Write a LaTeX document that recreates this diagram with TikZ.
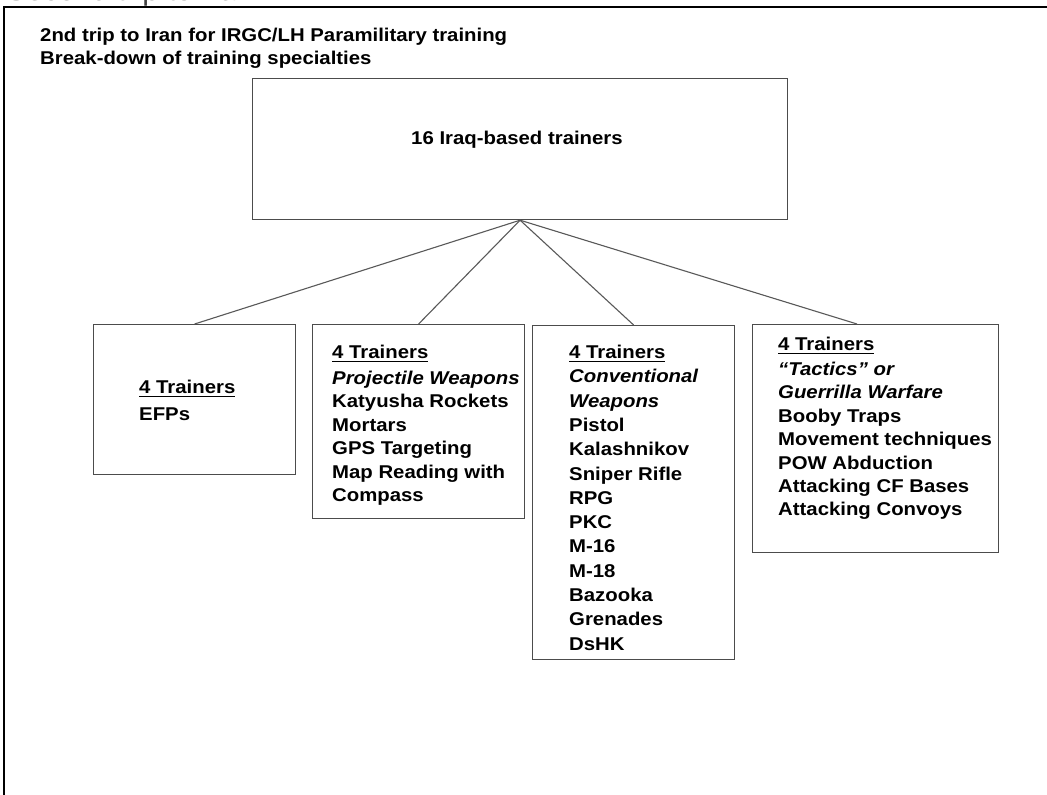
\documentclass[tikz,border=0pt]{standalone}
\usepackage{fontspec}
\setmainfont{Liberation Sans}[FakeStretch=1.1]
\usetikzlibrary{calc}
\newcommand\ulx[1]{\setbox0\hbox{#1}\rlap{\vrule height -2pt depth 3.6pt width \wd0}\box0}
\newcommand\boxlines[2]{\vtop{\baselineskip=#1\lineskiplimit=-\maxdimen\lineskip=0pt\halign{##\hfil\cr#2\crcr}}}
\tikzset{
  panel/.style={draw=black!70, line width=1.2pt, inner sep=0pt, anchor=north west, fill=white},
  txt/.style={inner sep=0pt, anchor=base west, font=\bfseries\fontsize{18.5}{23.5}\selectfont},
  link/.style={draw=black!65, line width=1.1pt},
  frame/.style={draw=black, line width=1.3pt}
}
\begin{document}
\begin{tikzpicture}[x=1pt,y=-1pt]
\useasboundingbox (0,0) rectangle (1047,795);
\clip (0,0) rectangle (1047,795);
\fill[white] (0,0) rectangle (1047,795);
% cut-off text at the very top (only its lowest edge shows)
\node[inner sep=0pt, anchor=base west, text=black!75, font=\mdseries\fontsize{27.5}{30}\selectfont] (cut) at (6,0.8) {Second trip to Iran};
% frame
\draw[frame] (4,795) -- (4,7) -- (1047,7);
% title
\node[txt] (title) at (40,41.5) {\boxlines{23.5pt}{2nd trip to Iran for IRGC/LH Paramilitary training\cr Break-down of training specialties}};
% boxes
\node[panel, minimum width=535pt, minimum height=141pt] (top) at (252,78) {};
\node[txt, anchor=base] (toptxt) at (517,144) {16 Iraq-based trainers};
\node[panel, minimum width=202pt, minimum height=150pt] (b1) at (93,324) {};
\node[panel, minimum width=212pt, minimum height=194pt] (b2) at (312,324) {};
\node[panel, minimum width=202pt, minimum height=334pt] (b3) at (532,325) {};
\node[panel, minimum width=246pt, minimum height=228pt] (b4) at (752,324) {};
% connectors
\draw[link] (top.south) -- (b1.north);
\draw[link] (top.south) -- (b2.north);
\draw[link] (top.south) -- (b3.north);
\draw[link] (top.south) -- ($(b4.north west)+(105,0)$);
% box texts
\node[txt] (t1) at (139,393.5) {\boxlines{23.5pt}{\ulx{4 Trainers}\cr\noalign{\kern3.5pt}EFPs}};
\node[txt] (t2) at (332,358.5) {\boxlines{23.5pt}{\ulx{4 Trainers}\cr\noalign{\kern2pt}\itshape Projectile Weapons\cr Katyusha Rockets\cr Mortars\cr GPS Targeting\cr Map Reading with\cr Compass}};
\node[txt] (t3) at (569,358.5) {\boxlines{24.3pt}{\ulx{4 Trainers}\cr\itshape Conventional\cr\itshape Weapons\cr Pistol\cr Kalashnikov\cr Sniper Rifle\cr RPG\cr PKC\cr M-16\cr M-18\cr Bazooka\cr Grenades\cr DsHK}};
\node[txt] (t4) at (778,350.5) {\boxlines{23.4pt}{\ulx{4 Trainers}\cr\noalign{\kern1.5pt}\itshape “Tactics” or\cr\itshape Guerrilla Warfare\cr Booby Traps\cr Movement techniques\cr POW Abduction\cr Attacking CF Bases\cr Attacking Convoys}};
\end{tikzpicture}
\end{document}
